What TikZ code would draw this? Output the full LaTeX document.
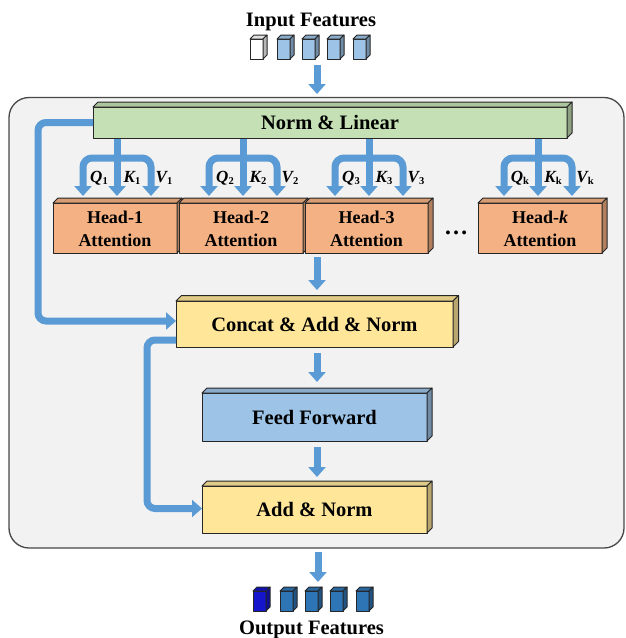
\documentclass[tikz,border=0pt]{standalone}
\usepackage{fontspec}
\setmainfont{Liberation Serif}
\usetikzlibrary{arrows.meta,calc}
\definecolor{arrblue}{HTML}{5B9BD5}
\definecolor{cgreen}{HTML}{C5E0B4}
\definecolor{corange}{HTML}{F4B183}
\definecolor{cyellow}{HTML}{FFE699}
\definecolor{cblue}{HTML}{9DC3E6}
\definecolor{cdblue}{HTML}{2E75B6}
\definecolor{cvblue}{HTML}{1515CC}
\definecolor{bgray}{HTML}{F2F2F2}
\definecolor{edge}{HTML}{262626}
\tikzset{
  arr/.style={draw=arrblue, line width=7pt, -{Triangle[width=17pt,length=10pt]}},
  arrs/.style={arr, rounded corners=9pt},
  solid3d/.style={draw=edge, line width=1pt, inner sep=0pt, outer sep=0pt, line join=round},
  lbl/.style={font=\fontsize{20.5}{22}\selectfont\bfseries},
  hd/.style={font=\fontsize{18}{23}\selectfont\bfseries},
  qlbl/.style={font=\fontsize{17}{17}\selectfont\bfseries\itshape, inner sep=0pt},
  plain/.style={},
}
\newcommand\sbs[1]{\raisebox{-0.35ex}{\fontsize{10.5}{10.5}\selectfont\upshape\bfseries #1}}
\newcommand\twoline[2]{\raisebox{-2.5pt}[\height][\depth]{\begin{tabular}{@{}c@{}}#1\\#2\end{tabular}}}
% name, cx, cy, w, h, depth, color, style, text
\newcommand\tdbox[9]{%
  \node[solid3d, fill=#7, minimum width=#4pt, minimum height=#5pt, align=center, #8] (#1) at (#2,#3) {#9};
  \draw[solid3d, fill=#7!88!black] (#1.north west) -- ++(#6pt,#6pt) -- ($(#1.north east)+(#6pt,#6pt)$) -- (#1.north east) -- cycle;
  \draw[solid3d, fill=#7!72!black] (#1.north east) -- ++(#6pt,#6pt) -- ($(#1.south east)+(#6pt,#6pt)$) -- (#1.south east) -- cycle;
}
% id, stem x, head name, subscript
\newcommand\fork[4]{%
  \coordinate (f#1) at (#2,158);
  \draw[arr, shorten >=7pt, shorten <=0.5pt] (f#1 |- bar.south) -- (f#1 |- #3.north);
  \draw[arrs, shorten >=7pt] (f#1) -| ($(f#1 |- #3.north)+(-34pt,0pt)$);
  \draw[arrs, shorten >=7pt] (f#1) -| ($(f#1 |- #3.north)+(34pt,0pt)$);
  \node[qlbl] (q#1) at (#2-18,178) {Q\sbs{#4}};
  \node[qlbl] (k#1) at (#2+15,178) {K\sbs{#4}};
  \node[qlbl] (v#1) at (#2+47,178) {V\sbs{#4}};
}
\begin{document}
\begin{tikzpicture}[x=1pt,y=-1pt]
\useasboundingbox (0,0) rectangle (625,638);
\draw[fill=bgray, draw=edge!85, line width=1.3pt, rounded corners=20pt] (9,97.5) rectangle (624,548);

\node[lbl, anchor=base, inner sep=0pt] (intitle) at (311,26.5) {Input Features};
\node[lbl, anchor=base, inner sep=0pt] (outtitle) at (311.5,634) {Output Features};

% input cubes
\tdbox{in1}{256.5}{49}{13}{20}{4}{white}{plain}{}
\tdbox{in2}{283.5}{49}{13}{20}{4}{cblue}{plain}{}
\tdbox{in3}{308.5}{49}{13}{20}{4}{cblue}{plain}{}
\tdbox{in4}{333.5}{49}{13}{20}{4}{cblue}{plain}{}
\tdbox{in5}{359.5}{49}{13}{20}{4}{cblue}{plain}{}

% output cubes
\tdbox{out1}{259.5}{601}{13}{20}{4}{cvblue}{plain}{}
\tdbox{out2}{286.5}{601}{13}{20}{4}{cdblue}{plain}{}
\tdbox{out3}{311.5}{601}{13}{20}{4}{cdblue}{plain}{}
\tdbox{out4}{336.5}{601}{13}{20}{4}{cdblue}{plain}{}
\tdbox{out5}{362.5}{601}{13}{20}{4}{cdblue}{plain}{}

% main boxes
\tdbox{bar}{330}{122.5}{474}{31}{5}{cgreen}{lbl}{Norm \& Linear}
\tdbox{h1}{115}{228}{124}{50}{5}{corange}{hd}{\twoline{Head-1}{Attention}}
\tdbox{h2}{241}{228}{124}{50}{5}{corange}{hd}{\twoline{Head-2}{Attention}}
\tdbox{h3}{366.5}{228}{123}{50}{5}{corange}{hd}{\twoline{Head-3}{Attention}}
\tdbox{hk}{540}{228}{124}{50}{5}{corange}{hd}{\twoline{Head-\textit{k}}{Attention}}
\node[font=\fontsize{24}{24}\selectfont\bfseries, anchor=base, inner sep=0pt] (dots) at (456,234.5) {…};
\tdbox{cat}{314.5}{324}{277}{46}{5.5}{cyellow}{lbl}{Concat \& Add \& Norm}
\tdbox{ff}{314.5}{417}{225}{48}{5}{cblue}{lbl}{Feed Forward}
\tdbox{add}{314.5}{509.5}{225}{47}{5}{cyellow}{lbl}{Add \& Norm}

% forks
\fork{1}{117}{h1}{1}
\fork{2}{243}{h2}{2}
\fork{3}{369}{h3}{3}
\fork{k}{538}{hk}{k}

% vertical arrows
\coordinate (ai) at (317,65);
\draw[arr, shorten <=6pt, shorten >=13pt] (ai |- in3.south) -- (ai |- bar.north);
\coordinate (a1) at (317,257);
\draw[arr, shorten <=4pt, shorten >=11pt] (a1 |- h3.south) -- (a1 |- cat.north);
\draw[arr, shorten <=6pt, shorten >=11pt] (a1 |- cat.south) -- (a1 |- ff.north);
\draw[arr, shorten <=6pt, shorten >=9pt] (a1 |- ff.south) -- (a1 |- add.north);
\coordinate (ao) at (318,552);
\draw[arr, shorten <=19pt, shorten >=9pt] (ao |- add.south) -- (ao |- out3.north);

% skip connections
\coordinate (s1) at (38,250);
\draw[arr, rounded corners=8pt] (bar.west) -| (s1) |- ([yshift=3pt]cat.west);
\coordinate (s2) at (147,420);
\draw[arr, rounded corners=8pt] ([yshift=-16pt]cat.west) -| (s2) |- ([yshift=1pt]add.west);
\end{tikzpicture}
\end{document}
